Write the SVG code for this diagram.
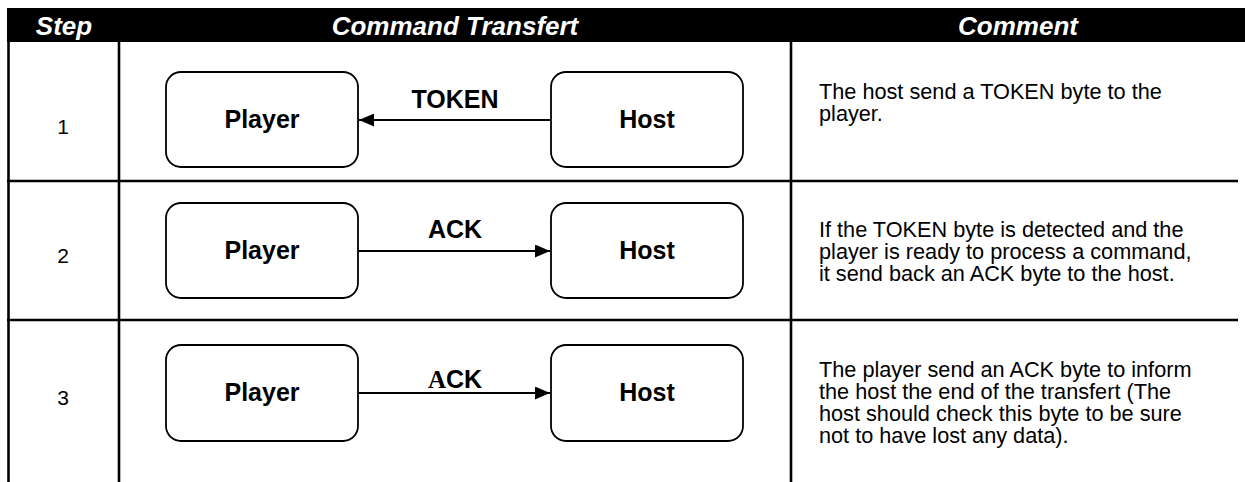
<svg xmlns="http://www.w3.org/2000/svg" width="1245" height="482" viewBox="0 0 1245 482">
<style>
.hdr{font-family:"Liberation Sans",Arial,sans-serif;font-size:26px;font-weight:bold;font-style:italic;fill:#fff;text-anchor:middle}
.grid{stroke:#000;stroke-width:2.6;fill:none}
.box{fill:#fff;stroke:#000;stroke-width:1.8}
.lbl{font-family:"Liberation Sans",Arial,sans-serif;font-size:25px;font-weight:bold;fill:#000;text-anchor:middle}
.num{font-family:"Liberation Sans",Arial,sans-serif;font-size:21px;fill:#000;text-anchor:middle}
.cmt{font-family:"Liberation Sans",Arial,sans-serif;font-size:21.7px;fill:#000}
.conn{stroke:#000;stroke-width:1.8;fill:none}
</style>
<defs>
<marker id="ah" viewBox="0 0 15 13" refX="15" refY="6.5" markerWidth="15" markerHeight="13" markerUnits="userSpaceOnUse" orient="auto">
<path d="M0,0 L15,6.5 L0,13 Z" fill="#000"/>
</marker>
</defs>
<rect width="1245" height="482" fill="#fff"/>
<g id="table">
<rect x="7" y="8" width="1238" height="34" fill="#000"/>
<text class="hdr" x="64" y="35">Step</text>
<text class="hdr" x="455" y="35">Command Transfert</text>
<text class="hdr" x="1018" y="35">Comment</text>
<line class="grid" x1="8.5" y1="42" x2="8.5" y2="482"/>
<line class="grid" x1="119" y1="42" x2="119" y2="482"/>
<line class="grid" x1="791" y1="42" x2="791" y2="482"/>
<line class="grid" x1="7" y1="181" x2="1238" y2="181"/>
<line class="grid" x1="7" y1="320" x2="1238" y2="320"/>
</g>
<g id="row1">
<text class="num" x="63" y="134">1</text>
<g id="player1"><rect class="box" x="166" y="72" width="192" height="95" rx="15"/><text class="lbl" x="262" y="128">Player</text></g>
<g id="host1"><rect class="box" x="551" y="72" width="192" height="95" rx="15"/><text class="lbl" x="647" y="128">Host</text></g>
<text class="cmt" x="819" y="99">The host send a TOKEN byte to the</text>
<text class="cmt" x="819" y="121">player.</text>
</g>
<g id="row2">
<text class="num" x="63" y="263">2</text>
<g id="player2"><rect class="box" x="166" y="203" width="192" height="95" rx="15"/><text class="lbl" x="262" y="259">Player</text></g>
<g id="host2"><rect class="box" x="551" y="203" width="192" height="95" rx="15"/><text class="lbl" x="647" y="259">Host</text></g>
<text class="cmt" x="819" y="237">If the TOKEN byte is detected and the</text>
<text class="cmt" x="819" y="259">player is ready to process a command,</text>
<text class="cmt" x="819" y="281">it send back an ACK byte to the host.</text>
</g>
<g id="row3">
<text class="num" x="63" y="405">3</text>
<g id="player3"><rect class="box" x="166" y="345" width="192" height="96" rx="15"/><text class="lbl" x="262" y="401">Player</text></g>
<g id="host3"><rect class="box" x="551" y="345" width="192" height="96" rx="15"/><text class="lbl" x="647" y="401">Host</text></g>
<text class="cmt" x="819" y="377">The player send an ACK byte to inform</text>
<text class="cmt" x="819" y="399">the host the end of the transfert (The</text>
<text class="cmt" x="819" y="421">host should check this byte to be sure</text>
<text class="cmt" x="819" y="443">not to have lost any data).</text>
</g>
<g id="connectors">
<line class="conn" x1="551" y1="120" x2="359" y2="120" marker-end="url(#ah)"/>
<text class="lbl" x="455" y="108">TOKEN</text>
<line class="conn" x1="358" y1="251" x2="550" y2="251" marker-end="url(#ah)"/>
<text class="lbl" x="455" y="238">ACK</text>
<line class="conn" x1="358" y1="393" x2="550" y2="393" marker-end="url(#ah)"/>
<text class="lbl" x="455" y="388"><tspan font-family="'Liberation Serif','Times New Roman',serif">A</tspan>CK</text>
</g>
</svg>
